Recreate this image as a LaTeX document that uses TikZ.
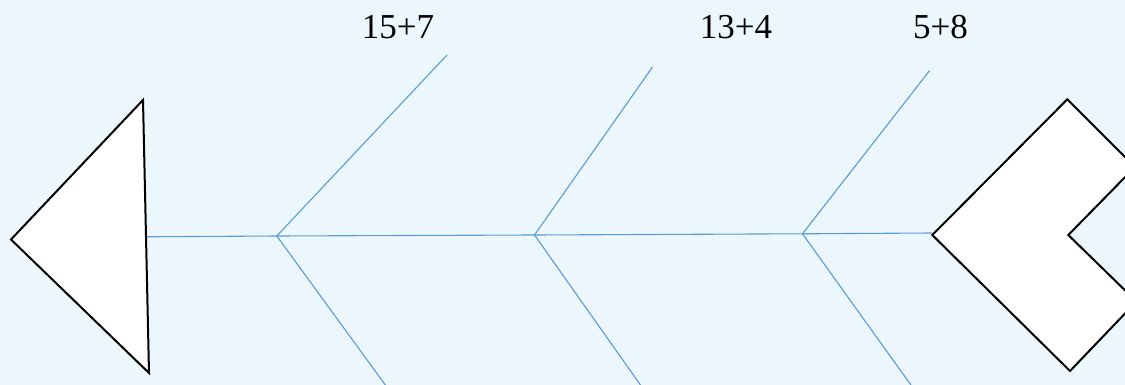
\documentclass[tikz,border=0pt]{standalone}
\usepackage{fontspec}
\setmainfont{Liberation Serif}
\definecolor{bgc}{RGB}{236,247,253}
\definecolor{bone}{RGB}{91,155,213}
\tikzset{
  boneline/.style={draw=bone, line width=1.1pt},
  headshape/.style={draw=black, fill=white, line width=2pt, line join=miter},
  lbl/.style={font=\fontsize{35}{40}\selectfont, inner sep=0pt, text=black}
}
\begin{document}
\begin{tikzpicture}[x=1pt,y=-1pt]
\useasboundingbox (0,0) rectangle (1125,385);
\fill[bgc] (0,0) rectangle (1125,385);
\begin{scope}
\clip (0,0) rectangle (1125,385);
% spine coordinates
\coordinate (s0) at (144,236.8);
\coordinate (j1) at (276.8,236);
\coordinate (j2) at (534.5,235);
\coordinate (j3) at (802.5,233.8);
\coordinate (s4) at (932,233);
% bone ends
\coordinate (u1) at (447,55);
\coordinate (u2) at (652.5,67);
\coordinate (u3) at (929.5,70.7);
\coordinate (d1) at (389,390);
\coordinate (d2) at (644,390);
\coordinate (d3) at (914.5,390);
\draw[boneline] (s0) -- (j1) -- (j2) -- (j3) -- (s4);
\draw[boneline] (j1) -- (u1);
\draw[boneline] (j2) -- (u2);
\draw[boneline] (j3) -- (u3);
\draw[boneline] (j1) -- (d1);
\draw[boneline] (j2) -- (d2);
\draw[boneline] (j3) -- (d3);
% tail (triangle)
\draw[headshape] (143,100) -- (11,239.5) -- (149,373) -- cycle;
% head (chevron)
\draw[headshape] (1067.3,99.3) -- (1135,167) -- (1068.3,235) -- (1136.5,301.5) -- (1070,371) -- (932.3,235) -- cycle;
\end{scope}
\node[lbl] (t1) at (398,27) {15+7};
\node[lbl] (t2) at (736,27) {13+4};
\node[lbl] (t3) at (940.5,27) {5+8};
\end{tikzpicture}
\end{document}
